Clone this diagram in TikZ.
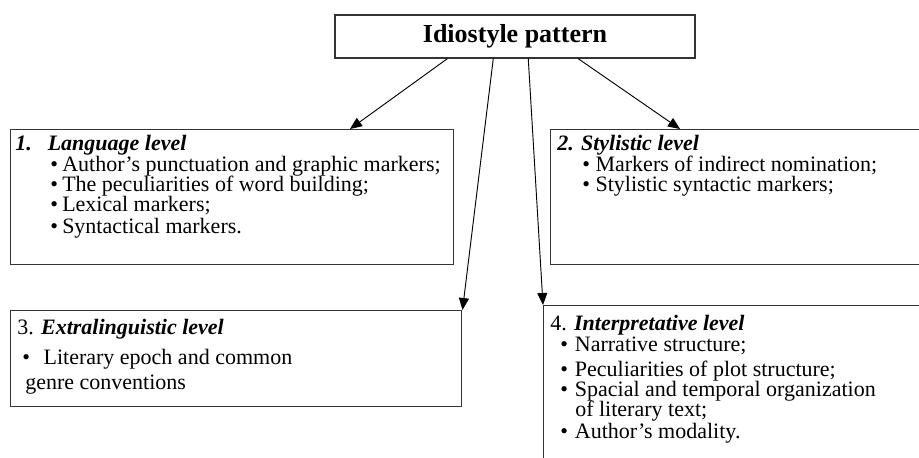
\documentclass[tikz,border=0pt]{standalone}
\usepackage{fontspec}
\setmainfont{Liberation Serif}
\usetikzlibrary{arrows.meta,calc}

\newcommand\pkt[2][9pt]{\makebox[#1][l]{\textbullet}#2}

\begin{document}
\begin{tikzpicture}[x=0.75pt,y=-0.75pt,
kasten/.style={draw=black!80, line width=1.1pt, inner sep=0pt},
zeile/.style={anchor=base west, inner sep=0pt, font=\fontsize{16.5}{18}\selectfont},
pfeil/.style={-{Triangle[length=9pt,width=7.5pt]}, line width=0.7pt},
]
\useasboundingbox (0,0) rectangle (919,457);

\node[kasten, minimum width=270pt, minimum height=32.25pt,
  font=\fontsize{19.5}{22}\selectfont\bfseries] (kopf) at (515,36.5) {Idiostyle pattern};

\node[kasten, anchor=north west, minimum width=332.25pt, minimum height=101.25pt] (ebene1) at (10,129) {};
\node[kasten, anchor=north west, minimum width=285pt, minimum height=101.25pt] (ebene2) at (550,129) {};
\node[kasten, anchor=north west, minimum width=338.25pt, minimum height=72pt] (ebene3) at (10,310) {};
\node[kasten, anchor=north west, minimum width=290.25pt, minimum height=123.75pt] (ebene4) at (543,305) {};

\draw[pfeil] ($(kopf.south west)+(113,0)$) -- ($(ebene1.north west)+(340,0)$);
\draw[pfeil] ($(kopf.south west)+(159,0)$) -- (ebene3.north east);
\draw[pfeil] ($(kopf.south west)+(194,0)$) -- (ebene4.north west);
\draw[pfeil] ($(kopf.south west)+(244,0)$) -- ($(ebene2.north west)+(130,0)$);

% 1. language level
\node[zeile] (t1k) at (15,150) {\bfseries\itshape 1.\hspace{12pt}Language level};
\node[zeile] (t1a) at (50,171) {\pkt{Author's punctuation and graphic markers;}};
\node[zeile] (t1b) at (50,191) {\pkt{The peculiarities of word building;}};
\node[zeile] (t1c) at (50,211) {\pkt{Lexical markers;}};
\node[zeile] (t1d) at (50,233) {\pkt{Syntactical markers.}};

% 2. stylistic level
\node[zeile] (t2k) at (557,150) {\bfseries\itshape 2. Stylistic level};
\node[zeile] (t2a) at (582,171) {\pkt[10pt]{Markers of indirect nomination;}};
\node[zeile] (t2b) at (582,191) {\pkt[10pt]{Stylistic syntactic markers;}};

% 3. extralinguistic level
\node[zeile] (t3k) at (17,334) {3. {\bfseries\itshape Extralinguistic level}};
\node[zeile] (t3a) at (22,364) {\pkt[16pt]{Literary epoch and common}};
\node[zeile] (t3b) at (25,389) {genre conventions};

% 4. interpretative level
\node[zeile] (t4k) at (550,330) {4. {\bfseries\itshape Interpretative level}};
\node[zeile] (t4a) at (560,351) {\pkt[11pt]{Narrative structure;}};
\node[zeile] (t4b) at (560,376) {\pkt[11pt]{Peculiarities of plot structure;}};
\node[zeile] (t4c) at (560,396) {\pkt[11pt]{Spacial and temporal organization}};
\node[zeile] (t4d) at (575,416) {of literary text;};
\node[zeile] (t4e) at (560,438) {\pkt[11pt]{Author's modality.}};

\end{tikzpicture}
\end{document}
